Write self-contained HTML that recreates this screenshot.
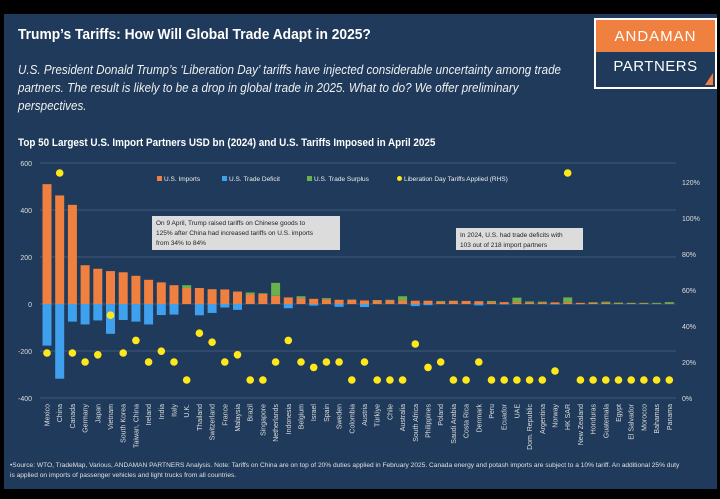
<!DOCTYPE html>
<html><head><meta charset="utf-8">
<style>
body{margin:0;background:#000;width:720px;height:499px;overflow:hidden;font-family:"Liberation Sans",sans-serif;}
#panel{position:absolute;left:4px;top:14px;width:713px;height:475px;background:#1f3a5a;}
.t{position:absolute;color:#fff;white-space:nowrap;}
</style></head><body>
<div id="panel"></div>
<div class="t" style="left:18px;top:26px;font-size:15px;font-weight:bold;transform:scaleX(0.92);transform-origin:left">Trump’s Tariffs: How Will Global Trade Adapt in 2025?</div>
<div class="t" style="left:18px;top:61px;font-size:12.5px;font-style:italic;line-height:18px;color:#f0f0f0;transform:scaleX(0.93);transform-origin:left">U.S. President Donald Trump’s ‘Liberation Day’ tariffs have injected considerable uncertainty among trade<br>partners. The result is likely to be a drop in global trade in 2025. What to do? We offer preliminary<br>perspectives.</div>
<div style="position:absolute;left:594px;top:18px;width:119px;height:67px;border:2px solid #fff;background:#1f3a5a">
<div style="height:32px;background:#f08040;color:#fff;font-size:15px;text-align:center;line-height:34px;letter-spacing:1px">ANDAMAN</div>
<div style="color:#fff;font-size:15px;text-align:center;line-height:30px;letter-spacing:0.5px">PARTNERS</div>
<div style="position:absolute;right:2px;bottom:2px;width:0;height:0;border-left:8px solid transparent;border-bottom:12px solid #f08040"></div>
</div>
<div class="t" style="left:18px;top:137px;font-size:11px;font-weight:bold;transform:scaleX(0.9);transform-origin:left">Top 50 Largest U.S. Import Partners USD bn (2024) and U.S. Tariffs Imposed in April 2025</div>
<svg id="chart" width="720" height="499" style="position:absolute;left:0;top:0"></svg>
<div class="t" style="left:10px;top:461px;font-size:6.6px;line-height:10px;color:#e0e0e0">•Source: WTO, TradeMap, Various, ANDAMAN PARTNERS Analysis. Note: Tariffs on China are on top of 20% duties applied in February 2025. Canada energy and potash imports are subject to a 10% tariff. An additional 25% duty<br>is applied on imports of passenger vehicles and light trucks from all countries.</div>
<script>
const countries=["Mexico","China","Canada","Germany","Japan","Vietnam","South Korea","Taiwan, China","Ireland","India","Italy","U.K.","Thailand","Switzerland","France","Malaysia","Brazil","Singapore","Netherlands","Indonesia","Belgium","Israel","Spain","Sweden","Colombia","Austria","Türkiye","Chile","Australia","South Africa","Philippines","Poland","Saudi Arabia","Costa Rica","Denmark","Peru","Ecuador","UAE","Dom. Republic","Argentina","Norway","HK SAR","New Zealand","Honduras","Guatemala","Egypt","El Salvador","Morocco","Bahamas","Panama"];
const imports=[510,462,422,165,150,140,135,120,103,92,80,68,68,63,62,53,42,43,35,28,25,22,20,18,17,15,15,15,15,14,14,10,13,13,12,8,8,7,6,6,7,6,5,5,5,2,2,2,1,1];
const deficit=[-177,-318,-75,-87,-70,-127,-68,-75,-87,-47,-45,0,-48,-38,-15,-25,0,0,0,-18,0,-7,0,-12,0,-13,0,0,0,-9,-5,0,0,0,-6,0,-2,0,0,0,-2,0,-1,0,0,0,0,0,0,0];
const surplus=[0,0,0,0,0,0,0,0,0,0,0,12,0,0,0,0,7,3,55,0,8,0,5,0,2,0,2,3,18,0,0,3,1,0,0,5,0,20,5,4,0,22,0,3,5,4,3,3,4,7];
const tariffs=[25,125,25,20,24,46,25,32,20,26,20,10,36,31,20,24,10,10,20,32,20,17,20,20,10,20,10,10,10,30,17,20,10,10,20,10,10,10,10,10,15,125,10,10,10,10,10,10,10,10];
const leftTicks=[600,400,200,0,-200,-400];
const rightTicks=[0,20,40,60,80,100,120];
const svg=document.getElementById('chart');const NS='http://www.w3.org/2000/svg';
function yL(v){return 304-v*0.235;}
function yR(v){return 398-v*1.8;}
function xC(i){return 47+i*12.7;}
function mk(t,a){const e=document.createElementNS(NS,t);for(const k in a)e.setAttribute(k,a[k]);svg.appendChild(e);return e;}
leftTicks.forEach(v=>{
 const g=mk('line',{x1:40,x2:676,y1:yL(v),y2:yL(v),stroke:'#3d5878','stroke-width':1});
 
 
 const t=mk('text',{x:32,y:yL(v)+3,'text-anchor':'end','font-size':7,fill:'#ddd','font-family':'Liberation Sans'});t.textContent=v;
 
 
});
rightTicks.forEach(v=>{
 const t=mk('text',{x:682,y:yR(v)+3,'font-size':7,fill:'#ddd','font-family':'Liberation Sans'});t.textContent=v+'%';
 
 
});
countries.forEach((c,i)=>{
 const x=xC(i)-4.5;
 const b=mk('rect',{x:x,y:yL(imports[i]),width:9,height:imports[i]*0.235,fill:'#f08040'});
 
 
 if(surplus[i]>0){const s=mk('rect',{x:x,y:yL(imports[i]+surplus[i]),width:9,height:surplus[i]*0.235,fill:'#6ab04c'});
 
 }
 if(deficit[i]<0){const d=mk('rect',{x:x,y:304,width:9,height:-deficit[i]*0.235,fill:'#3fa0ee'});
 
 }
 const p=mk('circle',{cx:xC(i),cy:yR(tariffs[i]),r:3.8,fill:'#ffe81a'});
 
 
 const t=mk('text',{x:0,y:0,'font-size':7,fill:'#ddd','font-family':'Liberation Sans','text-anchor':'end',transform:`translate(${xC(i)+2.5},404) rotate(-90)`});t.textContent=c;
 
 
});
const leg=[['rect','#f08040','U.S. Imports',157],['rect','#3fa0ee','U.S. Trade Deficit',222],['rect','#6ab04c','U.S. Trade Surplus',307],['circle','#ffe81a','Liberation Day Tariffs Applied (RHS)',397]];
leg.forEach(l=>{
 if(l[0]=='rect')mk('rect',{x:l[3],y:176,width:5,height:5,fill:l[1]});else mk('circle',{cx:l[3]+2.5,cy:178.5,r:2.5,fill:l[1]});
 const t=mk('text',{x:l[3]+7,y:181,'font-size':6.5,fill:'#eee','font-family':'Liberation Sans'});t.textContent=l[2];
 
 
});
function box(x,y,w,h,lines,n){const r=mk('rect',{x:x,y:y,width:w,height:h,fill:'#dcdcdc'});
 
 
 lines.forEach((s,k)=>{const t=mk('text',{x:x+4,y:y+9+k*10,'font-size':6.5,fill:'#222','font-family':'Liberation Sans'});t.textContent=s;});}
box(152,216,188,34,["On 9 April, Trump raised tariffs on Chinese goods to","125% after China had increased tariffs on U.S. imports","from 34% to 84%"],'china-annotation');
box(456,228,127,22,["In 2024, U.S. had trade deficits with","103 out of 218 import partners"],'deficit-annotation');
</script>
</body></html>
